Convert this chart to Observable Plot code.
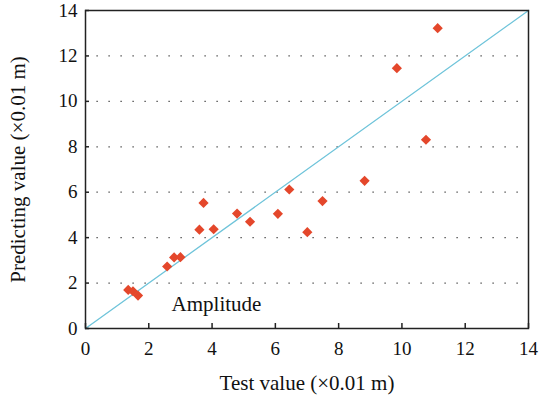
<!DOCTYPE html>
<html>
<head>
<meta charset="utf-8">
<script src="https://cdn.jsdelivr.net/npm/d3@7"></script>
<script src="https://cdn.jsdelivr.net/npm/@observablehq/plot@0.6"></script>
<style>
  body { margin: 0; background: #fff; }
  svg, svg text { font-family: "Liberation Serif", "DejaVu Serif", serif !important; }
</style>
</head>
<body>
<div id="chart"></div>
<script>
const testValues = [1.35, 1.50, 1.66, 2.58, 2.80, 3.00, 3.60, 3.73, 4.05, 4.79, 5.20, 6.08, 6.44, 7.01, 7.49, 8.82, 9.84, 10.76, 11.13];
const predictedValues = [1.70, 1.64, 1.45, 2.73, 3.13, 3.14, 4.35, 5.53, 4.37, 5.06, 4.70, 5.05, 6.12, 4.24, 5.61, 6.50, 11.46, 8.31, 13.22];
const xTicks = [0, 2, 4, 6, 8, 10, 12, 14];
const yTicks = [0, 2, 4, 6, 8, 10, 12, 14];
const gridValues = [2, 4, 6, 8, 10, 12];
const diagonal = [0, 14];
const annotation = ["Amplitude"];
const annotationPos = {x: 2.72, y: 1.08};

const points = testValues.map((x, i) => ({x, y: predictedValues[i]}));
const serif = '"Liberation Serif", "DejaVu Serif", serif';

const chart = Plot.plot({
  width: 539,
  height: 410,
  marginLeft: 85,
  marginRight: 11,
  marginTop: 10,
  marginBottom: 82,
  style: {fontFamily: serif, background: "#fff"},
  x: {domain: [0, 14]},
  y: {domain: [0, 14]},
  marks: [
    Plot.ruleY(gridValues, {stroke: "#333", strokeWidth: 1.2, strokeDasharray: "1.2,10.8", strokeDashoffset: -11.5}),
    Plot.line(diagonal.map(v => ({x: v, y: v})), {x: "x", y: "y", stroke: "#6FC4DA", strokeWidth: 1.3}),
    Plot.dot(points, {x: "x", y: "y", symbol: "diamond2", r: 4.6, fill: "#E4472B", stroke: "none"}),
    Plot.text(annotation, {x: annotationPos.x, y: annotationPos.y, text: d => d, textAnchor: "start", fontSize: 21, fontFamily: serif, fill: "#111"}),
    Plot.frame({stroke: "#222", strokeWidth: 1.5}),
    Plot.axisX(xTicks, {tickSize: -5, tickPadding: 18, fontSize: 19, fontFamily: serif, stroke: "#222", strokeWidth: 1.5, color: "#111",
      label: null}),
    Plot.axisY(yTicks, {tickSize: -4, tickPadding: 12, fontSize: 19, fontFamily: serif, stroke: "#222", strokeWidth: 1.5, color: "#111",
      label: null}),
    Plot.axisX({ticks: [], tickSize: 0, fontSize: 21, fontFamily: serif, color: "#111",
      label: "Test value (×0.01 m)", labelAnchor: "center", labelOffset: 61, labelArrow: "none"}),
    Plot.axisY({ticks: [], tickSize: 0, fontSize: 21, fontFamily: serif, color: "#111",
      label: "Predicting value (×0.01 m)", labelAnchor: "center", labelOffset: 75, labelArrow: "none"})
  ]
});
document.getElementById("chart").appendChild(chart);
</script>
</body>
</html>
